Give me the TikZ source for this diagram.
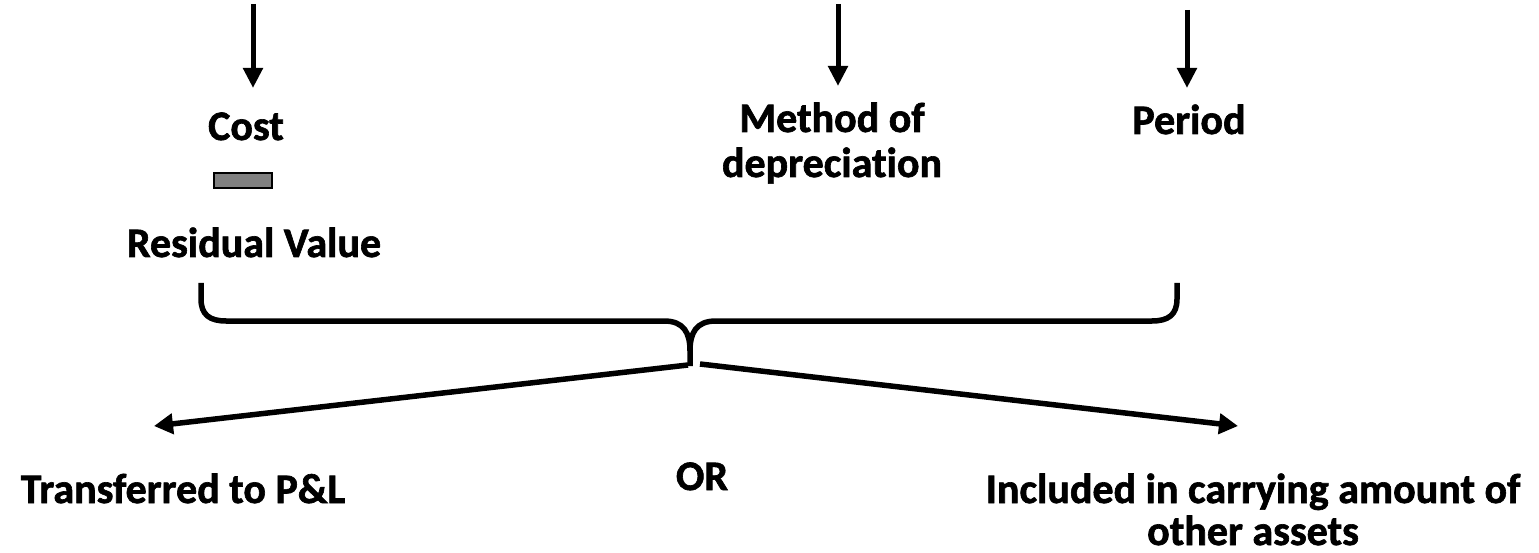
\documentclass[tikz,border=0pt]{standalone}
\usepackage{fontspec}
\setmainfont{Carlito}[Ligatures=NoCommon, BoldFeatures={FakeBold=1.5}]
\usetikzlibrary{arrows.meta}
\begin{document}
\begin{tikzpicture}[x=1pt,y=-1pt,
  lbl/.style={font=\bfseries\fontsize{42}{45}\selectfont, inner sep=0pt, anchor=base, align=center},
  downarrow/.style={line width=5pt, -{Triangle[width=19pt,length=20pt]}},
  outarrow/.style={line width=5.5pt, -{Triangle[width=20pt,length=19pt]}},
  bracestroke/.style={line width=5.5pt, line cap=butt, line join=round},
  barbox/.style={draw=black, line width=2.2pt, fill=black!50, minimum width=58pt, minimum height=15pt, inner sep=0pt}
]
\useasboundingbox (0,0) rectangle (1539,553);

% arrows coming in from above
\coordinate (s1) at (253,4);
\coordinate (s2) at (838,4);
\coordinate (s3) at (1187,10);
\coordinate (e1) at (253,88);
\coordinate (e2) at (838,86);
\coordinate (e3) at (1187,88);
\draw[downarrow] (s1) -- (e1);
\draw[downarrow] (s2) -- (e2);
\draw[downarrow] (s3) -- (e3);

% the three inputs (multi-line nodes sit on the baseline of their last line)
\node[lbl] (cost) at (246,140) {Cost};
\node[barbox] (minus) at (243,180.5) {};
\node[lbl] (resid) at (254,257) {Residual Value};
\node[lbl] (method) at (832,177) {Method of\\depreciation};
\node[lbl] (period) at (1189,134) {Period};

% curly brace gathering the inputs
\coordinate (bl) at (201,283);
\coordinate (br) at (1177,283);
\coordinate (tip) at (690,366);
\draw[bracestroke] (bl) -- (201,299) .. controls (201,315) and (210,321) .. (226,321)
  -- (664,321) .. controls (684,321) and (690,333) .. (690,351) -- (tip);
\draw[bracestroke] (690,351) .. controls (690,333) and (696,321) .. (716,321)
  -- (1152,321) .. controls (1168,321) and (1177,315) .. (1177,299) -- (br);

% two outcomes
\coordinate (lstart) at (688,365);
\coordinate (rstart) at (700,364);
\coordinate (ltip) at (154,426);
\coordinate (rtip) at (1238,426);
\draw[outarrow] (lstart) -- (ltip);
\draw[outarrow] (rstart) -- (rtip);

\node[lbl] (pl) at (183,503) {Transferred to P\&L};
\node[lbl] (or) at (702,490) {OR};
\node[lbl] (incl) at (1253,503) {Included in carrying amount of};
\node[lbl] (incl2) at (1253,545) {other assets};
\end{tikzpicture}
\end{document}
